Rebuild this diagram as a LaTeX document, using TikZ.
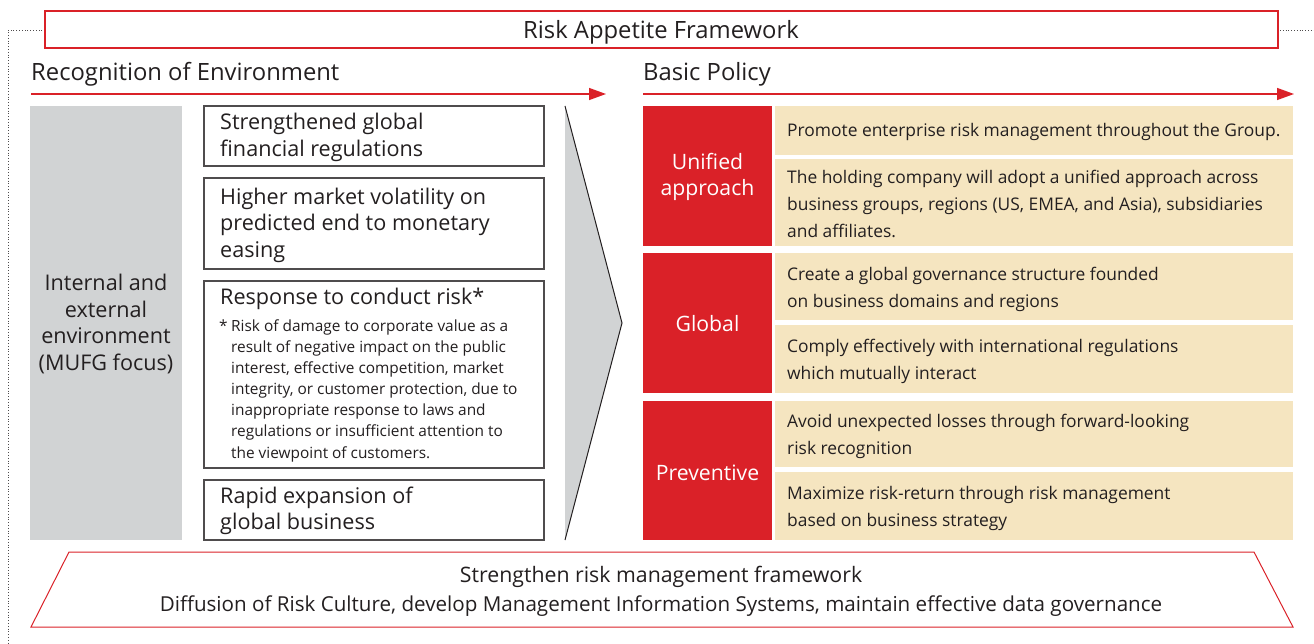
\documentclass[tikz,border=0pt]{standalone}
\usepackage{fontspec}
\setmainfont{Open Sans}
\usetikzlibrary{arrows.meta}
\definecolor{mred}{HTML}{DA2128}
\definecolor{beige}{HTML}{F5E5C0}
\definecolor{lgrey}{HTML}{D1D3D4}
\definecolor{ink}{HTML}{231F20}
\tikzset{
  redarrow/.style={draw=mred, line width=1.4pt, -{Triangle[length=17pt,width=12pt]}},
  envbox/.style={draw=ink!80, line width=1.2pt, fill=white},
  bigtxt/.style={inner sep=0pt, text=ink, font=\fontsize{21.6}{26.5}\selectfont, align=left},
  cenbig/.style={inner sep=0pt, font=\fontsize{21.6}{26.5}\selectfont, align=center},
  beigetxt/.style={inner sep=0pt, text=ink, font=\fontsize{17.4}{27}\selectfont, align=left, anchor=west},
  notetxt/.style={inner sep=0pt, text=ink, font=\fontsize{15.4}{21.17}\selectfont, align=left},
  redblock/.style={fill=mred, draw=none},
  beigeblock/.style={fill=beige, draw=none},
  dots/.style={draw=ink!80, line width=0.8pt, dotted}
}
\begin{document}
\begin{tikzpicture}[x=1pt,y=-1pt]
\useasboundingbox (0,0) rectangle (1314,644);
% dotted frame
\draw[dots] (45,30) -- (8,30) -- (8,644);
\draw[dots] (1280,30) -- (1314,30);
% title box
\draw[draw=mred, line width=1.2pt] (45,11) rectangle (1278,48);
\node[cenbig, text=ink, font=\fontsize{23.8}{26}\selectfont] (title) at (661,32) {Risk Appetite Framework};
% headings
\node[bigtxt, anchor=west, font=\fontsize{23.8}{26}\selectfont] (recog) at (31,74) {Recognition of Environment};
\node[bigtxt, anchor=west, font=\fontsize{23.8}{26}\selectfont] (basic) at (643,74) {Basic Policy};
\coordinate (a1s) at (31,94); \coordinate (a1e) at (606,94);
\coordinate (a2s) at (643,94); \coordinate (a2e) at (1294,94);
\draw[redarrow] (a1s) -- (a1e);
\draw[redarrow] (a2s) -- (a2e);
% grey env block
\fill[lgrey] (30,106) rectangle (182,540);
\node[cenbig, text=ink] (env) at (106,324) {Internal and\\external\\environment\\(MUFG focus)};
% chevron
\fill[lgrey] (565,106) -- (622,323) -- (565,540) -- cycle;
\draw[ink, line width=1pt] (565,106) -- (622,323) -- (565,540);
% env boxes
\draw[envbox] (204,106) rectangle (544,166);
\node[bigtxt, anchor=west] (b1) at (220,137.5) {Strengthened global\\financial regulations};
\draw[envbox] (204,178) rectangle (544,269);
\node[bigtxt, anchor=west] (b2) at (220,225) {Higher market volatility on\\predicted end to monetary\\easing};
\draw[envbox] (204,281) rectangle (544,468);
\node[bigtxt, anchor=west] (b3) at (220,299) {Response to conduct risk*};
\node[notetxt, anchor=north west] (star) at (219,320) {*};
\node[notetxt, anchor=west] (note) at (231,390.5) {Risk of damage to corporate value as a\\result of negative impact on the public\\interest, effective competition, market\\integrity, or customer protection, due to\\inappropriate response to laws and\\regulations or insufficient attention to\\the viewpoint of customers.};
\draw[envbox] (204,480) rectangle (544,540);
\node[bigtxt, anchor=west] (b4) at (220,511) {Rapid expansion of\\global business};
% red blocks
\fill[redblock] (643,106) rectangle (772,246);
\node[cenbig, text=white, font=\fontsize{21.2}{26.5}\selectfont] (u) at (707.5,177) {Unified\\approach};
\fill[redblock] (643,253) rectangle (772,393);
\node[cenbig, text=white, font=\fontsize{21.2}{26.5}\selectfont] (g) at (707.5,324) {Global};
\fill[redblock] (643,401) rectangle (772,540);
\node[cenbig, text=white, font=\fontsize{21.2}{26.5}\selectfont] (p) at (707.5,473) {Preventive};
% beige blocks
\fill[beigeblock] (775,106) rectangle (1293,155);
\node[beigetxt] (t1) at (787,132) {Promote enterprise risk management throughout the Group.};
\fill[beigeblock] (775,159) rectangle (1293,246);
\node[beigetxt] (t2) at (787,204) {The holding company will adopt a unified approach across\\business groups, regions (US, EMEA, and Asia), subsidiaries\\and affiliates.};
\fill[beigeblock] (775,253) rectangle (1293,320);
\node[beigetxt] (t3) at (787,289.5) {Create a global governance structure founded\\on business domains and regions};
\fill[beigeblock] (775,325) rectangle (1293,393);
\node[beigetxt] (t4) at (787,361.5) {Comply effectively with international regulations\\which mutually interact};
\fill[beigeblock] (775,401) rectangle (1293,467);
\node[beigetxt] (t5) at (787,436.5) {Avoid unexpected losses through forward-looking\\risk recognition};
\fill[beigeblock] (775,472) rectangle (1293,540);
\node[beigetxt] (t6) at (787,508.5) {Maximize risk-return through risk management\\based on business strategy};
% bottom trapezoid
\draw[mred, line width=1pt] (69,552) -- (1254,552) -- (1293,627) -- (31,627) -- cycle;
\node[cenbig, text=ink, font=\fontsize{21.3}{26.5}\selectfont] (s1) at (661,577) {Strengthen risk management framework};
\node[cenbig, text=ink, font=\fontsize{20.6}{26.5}\selectfont] (s2) at (661,606) {Diffusion of Risk Culture, develop Management Information Systems, maintain effective data governance};
\end{tikzpicture}
\end{document}
